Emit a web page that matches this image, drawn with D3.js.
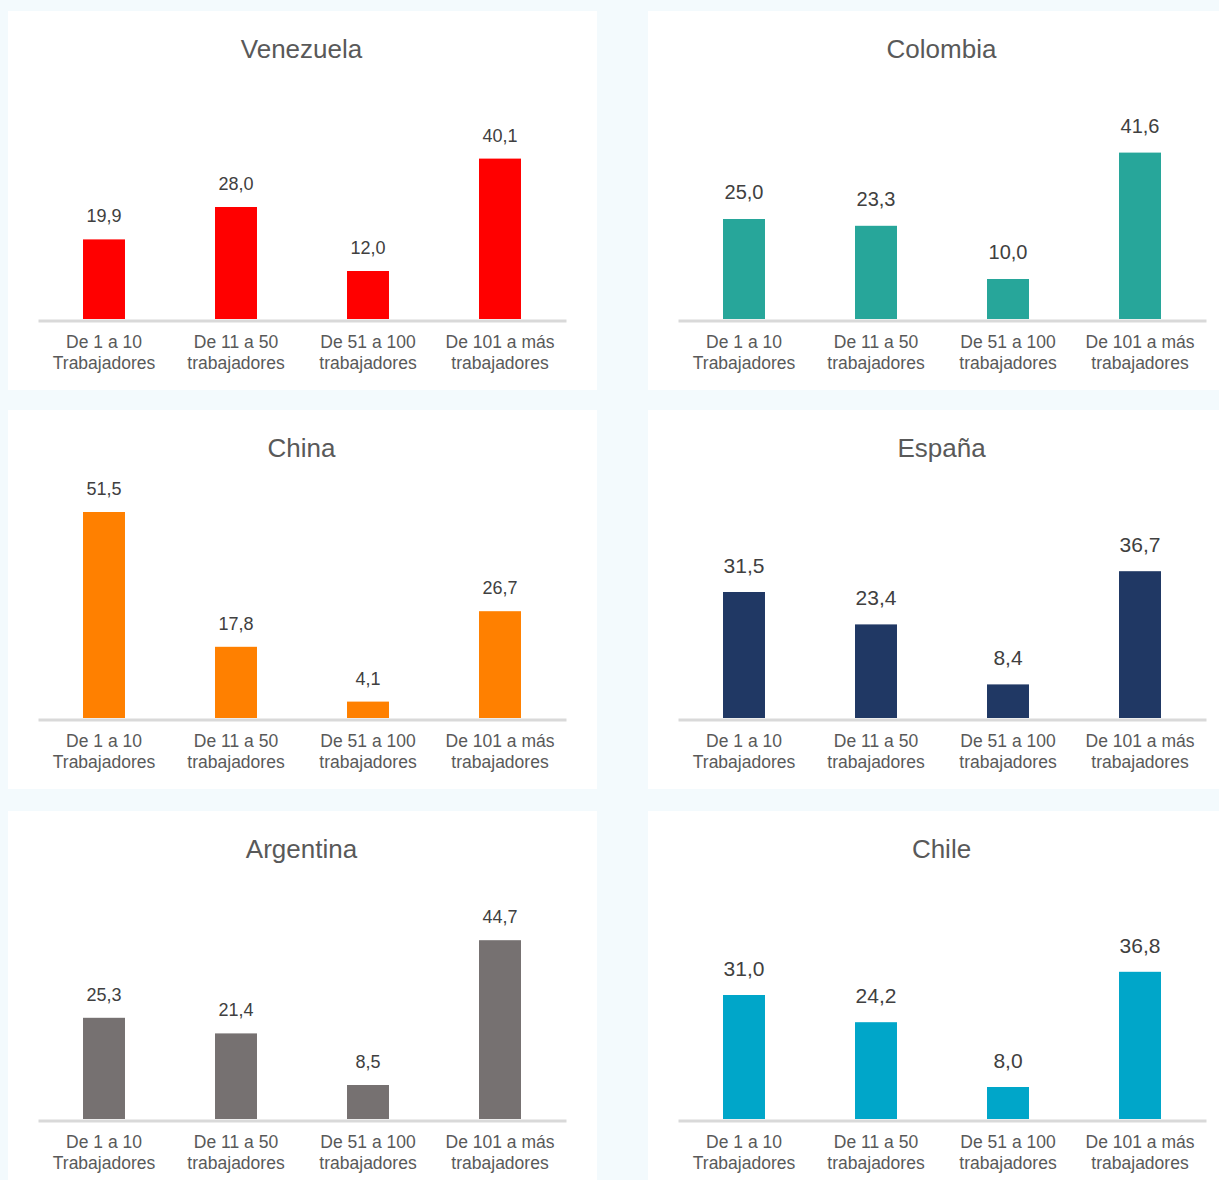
<!DOCTYPE html>
<html>
<head>
<meta charset="utf-8">
<script src="https://cdn.jsdelivr.net/npm/d3@7"></script>
<style>
  body { margin: 0; background: #f3fafd; }
  text { font-family: "Liberation Sans", Arial, sans-serif; }
</style>
</head>
<body>
<script>
// data
let categories = [
    ["De 1 a 10", "Trabajadores"],
    ["De 11 a 50", "trabajadores"],
    ["De 51 a 100", "trabajadores"],
    ["De 101 a más", "trabajadores"]
];
let countries = ["Venezuela", "Colombia", "China", "España", "Argentina", "Chile"];
let venezuela = [19.9, 28.0, 12.0, 40.1];
let colombia  = [25.0, 23.3, 10.0, 41.6];
let china     = [51.5, 17.8, 4.1, 26.7];
let espana    = [31.5, 23.4, 8.4, 36.7];
let argentina = [25.3, 21.4, 8.5, 44.7];
let chile     = [31.0, 24.2, 8.0, 36.8];
let series = [venezuela, colombia, china, espana, argentina, chile];

// styles per panel
let colors = ['#ff0000', '#27a69a', '#ff8000', '#203864', '#767171', '#00a6c9'];
let labelSize = [18, 20, 18, 21, 18, 21];
let labelGap = [17, 20, 17, 19, 17, 19];

let W = 1219, H = 1180;
let panel_w = 589, panel_h = 379;
let colX = [8, 648];
let rowY = [11, 410, 811];

let fmt = d3.formatLocale({decimal: ",", thousands: ".", grouping: [3], currency: ["", ""]}).format(".1f");

let svg = d3.select('body')
    .append('svg')
        .attr("width", W)
        .attr("height", H);

svg.append('rect')
    .attr('width', W).attr('height', H)
    .attr('fill', '#f3fafd');

function DrawPanel(i) {
    let px = colX[i % 2], py = rowY[Math.floor(i / 2)];
    let g = svg.append('g').attr('transform', 'translate(' + px + ',' + py + ')');
    g.append('rect')
        .attr('width', panel_w).attr('height', panel_h)
        .attr('fill', 'white');

    g.append('text')
        .attr('x', panel_w / 2 - 1).attr('y', 47)
        .attr('text-anchor', 'middle')
        .attr('font-size', 26)
        .attr('fill', '#595959')
        .text(countries[i]);

    let base = 308;
    let x = d3.scaleBand()
        .domain(categories.map(c => c.join(' ')))
        .range([30, 558])
        .paddingInner(0.682)
        .paddingOuter(0.341);
    let y = d3.scaleLinear().domain([0, 60]).range([base, base - 240]);

    let data = series[i].map((v, k) => ({cat: categories[k].join(' '), v: v}));

    g.selectAll('.bar').data(data).enter()
        .append('rect')
            .attr('x', d => x(d.cat))
            .attr('y', d => y(d.v))
            .attr('width', x.bandwidth())
            .attr('height', d => base - y(d.v))
            .attr('fill', colors[i]);

    g.selectAll('.lbl').data(data).enter()
        .append('text')
            .attr('x', d => x(d.cat) + x.bandwidth() / 2)
            .attr('y', d => y(d.v) - labelGap[i])
            .attr('text-anchor', 'middle')
            .attr('font-size', labelSize[i])
            .attr('fill', '#404040')
            .text(d => fmt(d.v));

    let axis = g.append('g')
        .attr('transform', 'translate(0,' + (base + 1.5) + ')')
        .call(d3.axisBottom(x).tickSize(0).tickSizeOuter(0));
    axis.select('.domain')
        .attr('stroke', '#d9d9d9')
        .attr('stroke-width', 3);
    axis.selectAll('.tick text').each(function(d, k) {
        let t = d3.select(this).text(null)
            .attr('font-size', 17.5)
            .attr('fill', '#595959')
            .attr('font-family', '"Liberation Sans", Arial, sans-serif')
            .attr('dy', null).attr('y', 0);
        categories[k].forEach((line, j) => {
            t.append('tspan')
                .attr('x', 0)
                .attr('y', 27 + j * 21)
                .text(line);
        });
    });
}

for (let i = 0; i < countries.length; i++) DrawPanel(i);
</script>
</body>
</html>
